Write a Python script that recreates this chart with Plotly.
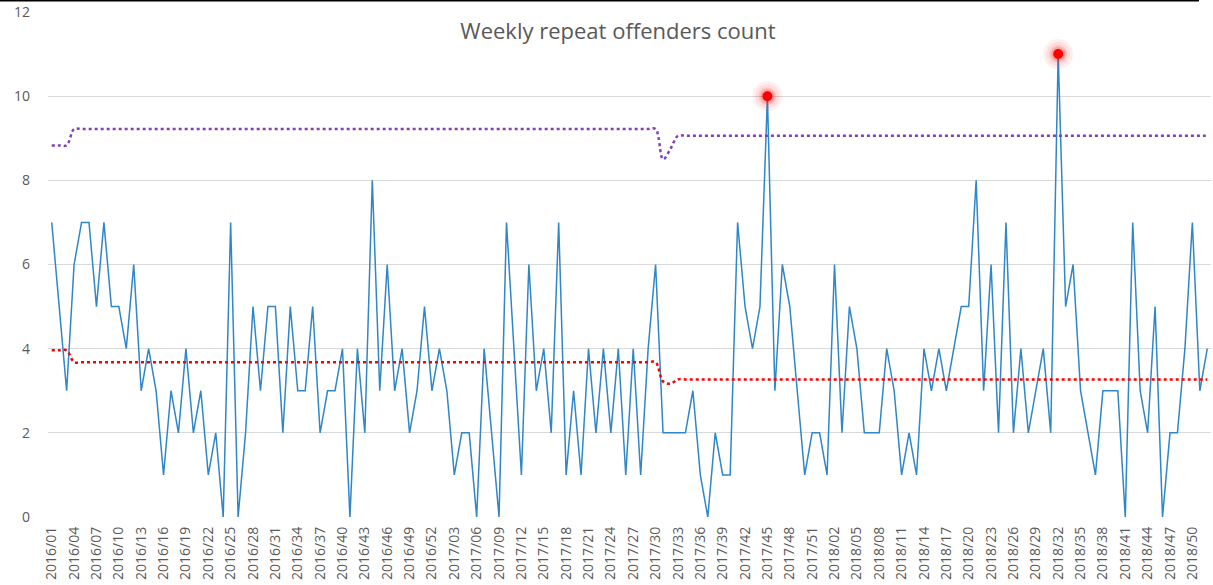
import plotly.graph_objects as go

# Week categories 2016/01 .. 2018/52
weeks = [f"{y}/{w:02d}" for y in (2016, 2017, 2018) for w in range(1, 53)]
tick_weeks = weeks[::3]

# Weekly repeat offender counts
counts = [
    7, 5, 3, 6, 7, 7, 5, 7, 5, 5,
    4, 6, 3, 4, 3, 1, 3, 2, 4, 2,
    3, 1, 2, 0, 7, 0, 2, 5, 3, 5,
    5, 2, 5, 3, 3, 5, 2, 3, 3, 4,
    0, 4, 2, 8, 3, 6, 3, 4, 2, 3,
    5, 3, 4, 3, 1, 2, 2, 0, 4, 2,
    0, 7, 4, 1, 6, 3, 4, 2, 7, 1,
    3, 1, 4, 2, 4, 2, 4, 1, 4, 1,
    4, 6, 2, 2, 2, 2, 3, 1, 0, 2,
    1, 1, 7, 5, 4, 5, 10, 3, 6, 5,
    3, 1, 2, 2, 1, 6, 2, 5, 4, 2,
    2, 2, 4, 3, 1, 2, 1, 4, 3, 4,
    3, 4, 5, 5, 8, 3, 6, 2, 7, 2,
    4, 2, 3, 4, 2, 11, 5, 6, 3, 2,
    1, 3, 3, 3, 0, 7, 3, 2, 5, 0,
    2, 2, 4, 7, 3, 4,
]

# Upper control limit (purple dotted)
ucl = [
    8.83, 8.83, 8.83, 9.22, 9.22, 9.22, 9.22, 9.22, 9.22, 9.22,
    9.22, 9.22, 9.22, 9.22, 9.22, 9.22, 9.22, 9.22, 9.22, 9.22,
    9.22, 9.22, 9.22, 9.22, 9.22, 9.22, 9.22, 9.22, 9.22, 9.22,
    9.22, 9.22, 9.22, 9.22, 9.22, 9.22, 9.22, 9.22, 9.22, 9.22,
    9.22, 9.22, 9.22, 9.22, 9.22, 9.22, 9.22, 9.22, 9.22, 9.22,
    9.22, 9.22, 9.22, 9.22, 9.22, 9.22, 9.22, 9.22, 9.22, 9.22,
    9.22, 9.22, 9.22, 9.22, 9.22, 9.22, 9.22, 9.22, 9.22, 9.22,
    9.22, 9.22, 9.22, 9.22, 9.22, 9.22, 9.22, 9.22, 9.22, 9.22,
    9.22, 9.22, 8.50, 8.75, 9.06, 9.06, 9.06, 9.06, 9.06, 9.06,
    9.06, 9.06, 9.06, 9.06, 9.06, 9.06, 9.06, 9.06, 9.06, 9.06,
    9.06, 9.06, 9.06, 9.06, 9.06, 9.06, 9.06, 9.06, 9.06, 9.06,
    9.06, 9.06, 9.06, 9.06, 9.06, 9.06, 9.06, 9.06, 9.06, 9.06,
    9.06, 9.06, 9.06, 9.06, 9.06, 9.06, 9.06, 9.06, 9.06, 9.06,
    9.06, 9.06, 9.06, 9.06, 9.06, 9.06, 9.06, 9.06, 9.06, 9.06,
    9.06, 9.06, 9.06, 9.06, 9.06, 9.06, 9.06, 9.06, 9.06, 9.06,
    9.06, 9.06, 9.06, 9.06, 9.06, 9.06,
]

# Centre line (red dotted)
centre = [
    3.96, 3.96, 3.96, 3.68, 3.68, 3.68, 3.68, 3.68, 3.68, 3.68,
    3.68, 3.68, 3.68, 3.68, 3.68, 3.68, 3.68, 3.68, 3.68, 3.68,
    3.68, 3.68, 3.68, 3.68, 3.68, 3.68, 3.68, 3.68, 3.68, 3.68,
    3.68, 3.68, 3.68, 3.68, 3.68, 3.68, 3.68, 3.68, 3.68, 3.68,
    3.68, 3.68, 3.68, 3.68, 3.68, 3.68, 3.68, 3.68, 3.68, 3.68,
    3.68, 3.68, 3.68, 3.68, 3.68, 3.68, 3.68, 3.68, 3.68, 3.68,
    3.68, 3.68, 3.68, 3.68, 3.68, 3.68, 3.68, 3.68, 3.68, 3.68,
    3.68, 3.68, 3.68, 3.68, 3.68, 3.68, 3.68, 3.68, 3.68, 3.68,
    3.68, 3.68, 3.22, 3.17, 3.27, 3.27, 3.27, 3.27, 3.27, 3.27,
    3.27, 3.27, 3.27, 3.27, 3.27, 3.27, 3.27, 3.27, 3.27, 3.27,
    3.27, 3.27, 3.27, 3.27, 3.27, 3.27, 3.27, 3.27, 3.27, 3.27,
    3.27, 3.27, 3.27, 3.27, 3.27, 3.27, 3.27, 3.27, 3.27, 3.27,
    3.27, 3.27, 3.27, 3.27, 3.27, 3.27, 3.27, 3.27, 3.27, 3.27,
    3.27, 3.27, 3.27, 3.27, 3.27, 3.27, 3.27, 3.27, 3.27, 3.27,
    3.27, 3.27, 3.27, 3.27, 3.27, 3.27, 3.27, 3.27, 3.27, 3.27,
    3.27, 3.27, 3.27, 3.27, 3.27, 3.27,
]

assert len(weeks) == len(counts) == len(ucl) == len(centre) == 156

# Points above the upper limit
out_x = [w for w, c, u in zip(weeks, counts, ucl) if c > u]
out_y = [c for c, u in zip(counts, ucl) if c > u]

FONT = "Open Sans"
GREY = "#595959"

fig = go.Figure()
fig.add_trace(go.Scatter(x=weeks, y=counts, mode="lines",
                         line=dict(color="#2F86C8", width=1.5), hoverinfo="skip"))
fig.add_trace(go.Scatter(x=weeks, y=centre, mode="lines",
                         line=dict(color="#FF0000", width=2.5, dash="dot", shape="spline"),
                         hoverinfo="skip"))
fig.add_trace(go.Scatter(x=weeks, y=ucl, mode="lines",
                         line=dict(color="#8040B8", width=2.5, dash="dot", shape="spline"),
                         hoverinfo="skip"))
# soft glow around the out-of-limit points
for size, alpha in ((30, 0.06), (24, 0.08), (18, 0.12), (14, 0.18)):
    fig.add_trace(go.Scatter(x=out_x, y=out_y, mode="markers",
                             marker=dict(size=size, color=f"rgba(255,0,0,{alpha})",
                                         line=dict(width=0)),
                             hoverinfo="skip"))
fig.add_trace(go.Scatter(x=out_x, y=out_y, mode="markers",
                         marker=dict(size=10, color="#FF0000", line=dict(width=0))))

fig.update_layout(
    width=1213, height=585,
    margin=dict(l=48, r=2, t=12, b=68, pad=0),
    paper_bgcolor="white", plot_bgcolor="white",
    showlegend=False,
    font=dict(family=FONT, color=GREY),
    title=dict(text="Weekly repeat offenders count", x=618 / 1213, xanchor="center",
               y=1 - 31 / 585, yanchor="middle", xref="container", yref="container",
               font=dict(family=FONT, size=22, color=GREY)),
    xaxis=dict(type="category", categoryorder="array", categoryarray=weeks,
               range=[-0.5, 155.5], tickmode="array", tickvals=tick_weeks,
               ticktext=tick_weeks, tickangle=-90, showgrid=False, zeroline=False,
               showline=False, ticks="", automargin=False, ticklabelstandoff=6,
               tickfont=dict(family=FONT, size=14, color=GREY)),
    yaxis=dict(range=[0, 12], dtick=2, tick0=0, showgrid=True, gridcolor="#D9D9D9",
               gridwidth=1, zeroline=False, showline=False, ticks="",
               ticklabelstandoff=17, automargin=False,
               tickfont=dict(family=FONT, size=14, color=GREY)),
    shapes=[dict(type="line", xref="paper", yref="paper",
                 x0=-48 / 1163, x1=(1199 - 48) / 1163,
                 y0=1 + 11.5 / 505, y1=1 + 11.5 / 505,
                 line=dict(color="black", width=2))],
)

fig.write_html("out.html", config={"displayModeBar": False},
               post_script="document.body.style.margin='0';")
